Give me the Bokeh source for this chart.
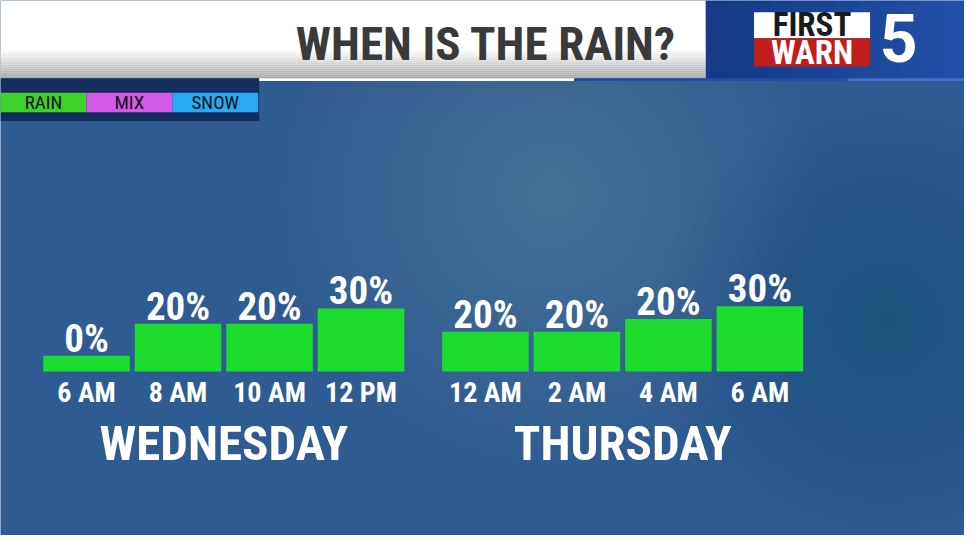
from bokeh.plotting import figure
from bokeh.models import Range1d, ColumnDataSource, LabelSet
from bokeh.core.properties import value
from bokeh.embed import file_html
from bokeh.resources import INLINE

# ---------------- data ----------------
title = "WHEN IS THE RAIN?"
days = ["WEDNESDAY", "THURSDAY"]
times = ["6 AM", "8 AM", "10 AM", "12 PM", "12 AM", "2 AM", "4 AM", "6 AM"]
day_index = [0, 0, 0, 0, 1, 1, 1, 1]
pct_labels = ["0%", "20%", "20%", "30%", "20%", "20%", "20%", "30%"]
bar_values = [7.3, 22.3, 22.3, 29.5, 18.6, 18.6, 24.5, 30.5]
legend_names = ["RAIN", "MIX", "SNOW"]
legend_colors = ["#3fd02a", "#d35ae6", "#2aa8f2"]

# ---------------- style ----------------
W, H = 980, 551
BG = "#2f5b93"
BAR = "#1edc2e"
NARROW = value("'Roboto Condensed', 'Noto Sans Condensed', 'DejaVu Sans Condensed', Roboto, sans-serif")
GAP = 0.36          # extra slot units between the two days
SLOT_PX = 93.0      # px per slot
FIRST_PX = 87.5     # px centre of first slot
BASE_PX = 382.0     # px of bar baseline
PX_PER_PCT = 2.2

p = figure(width=964, height=535, x_range=Range1d(0, W), y_range=Range1d(H, 0),
           x_axis_type=None, y_axis_type=None, output_backend="svg",
           toolbar_location=None, min_border=0)
p.grid.visible = False
p.outline_line_color = None
p.background_fill_color = BG
p.border_fill_color = BG

p.extra_x_ranges = {"slot": Range1d(-FIRST_PX / SLOT_PX, (W - FIRST_PX) / SLOT_PX)}
p.extra_y_ranges = {"pct": Range1d(-(H - BASE_PX) / PX_PER_PCT, BASE_PX / PX_PER_PCT)}


def label(x, y, text, size, color, align="center", font=NARROW, style="bold"):
    src = ColumnDataSource(dict(x=[x], y=[y], t=[text]))
    p.add_layout(LabelSet(x="x", y="y", text="t", source=src, text_font=font,
                          text_font_style=style, text_font_size=size, text_color=color,
                          text_align=align, text_baseline="alphabetic"))


# soft cloud texture in background (stacked faint discs = radial fade)
def blob(cx, cy, r, color, alpha, steps=20):
    for k in range(steps):
        p.circle(x=[cx], y=[cy], radius=r * (k + 1) / steps, fill_color=color,
                 fill_alpha=alpha, line_color=None)

blob(560, 200, 270, "white", 0.007)
blob(180, 200, 200, "white", 0.0045)
blob(150, 500, 200, "white", 0.004)
blob(500, 520, 180, "white", 0.003)
blob(900, 330, 230, "#10346a", 0.01)

# ---------------- header ----------------
p.quad(left=[0], right=[717], top=[0], bottom=[80], fill_color="white", line_color=None)
n = 15
for k in range(n):
    t = k / (n - 1)
    g = int(255 - t * 85)
    p.quad(left=[0], right=[717], top=[50 + 2 * k], bottom=[52 + 2 * k],
           fill_color=f"#{g:02x}{g:02x}{g:02x}", line_color=None)
label(687, 61, title, "47px", "#3a3a3a", align="right")

# logo panel
m = 12
for k in range(m):
    t = k / (m - 1)
    r = int(0x16 + t * (0x22 - 0x16)); g = int(0x3a + t * (0x50 - 0x3a)); b = int(0x85 + t * (0xa8 - 0x85))
    x0 = 717 + k * (W - 717) / m
    p.quad(left=[x0], right=[x0 + (W - 717) / m + 1], top=[0], bottom=[82],
           fill_color=f"#{r:02x}{g:02x}{b:02x}", line_color=None)
p.quad(left=[766], right=[884], top=[12], bottom=[39], fill_color="white", line_color=None)
p.quad(left=[766], right=[884], top=[39], bottom=[68], fill_color="#c21d1d", line_color=None)
label(825, 37, "FIRST", "33px", "#1a1a1a")
label(825, 65, "WARN", "33px", "white")
label(913, 63, "5", "66px", "white", font=value("Roboto"))

# separator lines
p.quad(left=[0], right=[263], top=[80], bottom=[124], fill_color="#142d5e", line_color=None)
p.quad(left=[263], right=[583], top=[80], bottom=[83], fill_color="white", line_color=None)
p.quad(left=[583], right=[861], top=[80], bottom=[83], fill_color="#1f4fa6", line_color=None)
p.quad(left=[861], right=[W], top=[80], bottom=[83], fill_color="#3f70d2", line_color=None)

# legend
LW = 262 / len(legend_names)
leg = ColumnDataSource(dict(
    left=[i * LW for i in range(len(legend_names))],
    right=[(i + 1) * LW for i in range(len(legend_names))],
    cx=[(i + 0.5) * LW for i in range(len(legend_names))],
    cy=[112] * len(legend_names),
    name=legend_names, color=legend_colors))
p.quad(left="left", right="right", top=95, bottom=115, fill_color="color", line_color=None, source=leg)
p.add_layout(LabelSet(x="cx", y="cy", text="name", text_font=NARROW, text_font_size="19px",
                      text_color="#111111", text_align="center", text_baseline="alphabetic",
                      source=leg))

# ---------------- bars ----------------
slots = [i + GAP * d for i, d in enumerate(day_index)]
src = ColumnDataSource(dict(slot=slots, val=bar_values, pct=pct_labels, time=times,
                            time_y=[-(413 - BASE_PX) / PX_PER_PCT] * len(times)))
p.vbar(x="slot", width=88 / SLOT_PX, top="val", bottom=0, x_range_name="slot",
       y_range_name="pct", fill_color=BAR, line_color=None, source=src)

p.add_layout(LabelSet(x="slot", y="val", text="pct", x_range_name="slot", y_range_name="pct",
                      y_offset=4, text_font=NARROW, text_font_style="bold", text_font_size="39px",
                      text_color="white", text_align="center", text_baseline="alphabetic",
                      source=src))
p.add_layout(LabelSet(x="slot", y="time_y", text="time", x_range_name="slot", y_range_name="pct",
                      text_font=NARROW, text_font_style="bold", text_font_size="28px",
                      text_color="white", text_align="center", text_baseline="alphabetic",
                      source=src))

# day labels
day_centres = []
for d in range(len(days)):
    s = [sl for sl, di in zip(slots, day_index) if di == d]
    day_centres.append(sum(s) / len(s))
dsrc = ColumnDataSource(dict(x=day_centres, y=[-(473 - BASE_PX) / PX_PER_PCT] * len(days), t=days))
p.add_layout(LabelSet(x="x", y="y", text="t", x_range_name="slot", y_range_name="pct",
                      text_font=NARROW, text_font_style="bold", text_font_size="49px",
                      text_color="white", text_align="center", text_baseline="alphabetic",
                      source=dsrc))

open("out.html", "w").write(file_html(p, INLINE))
